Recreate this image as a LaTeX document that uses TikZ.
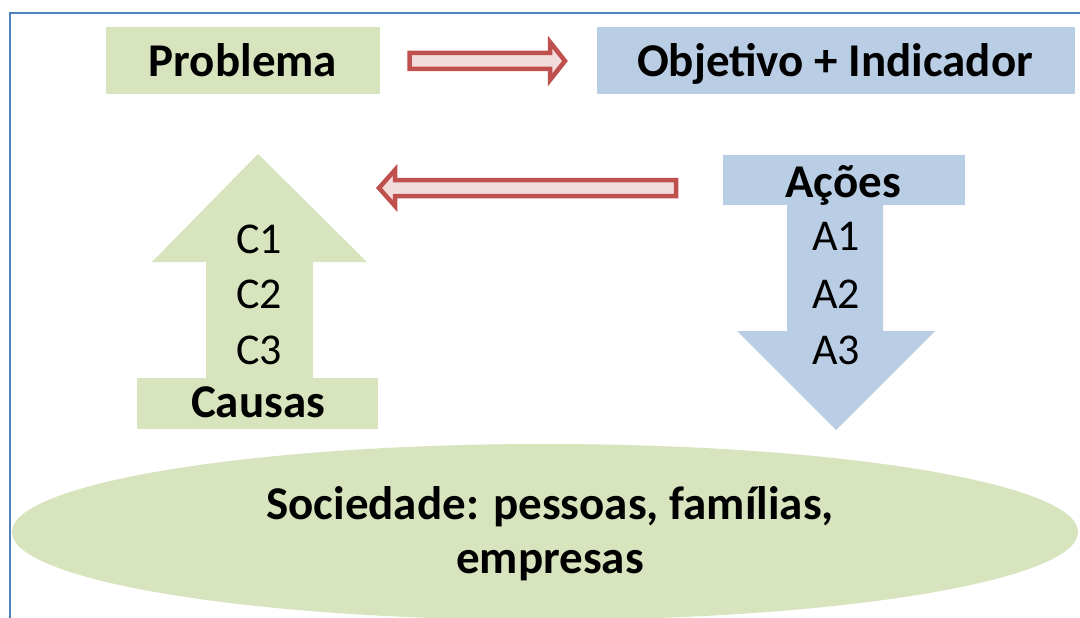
\documentclass[tikz,border=0pt]{standalone}
\usepackage{fontspec}
\setmainfont{Carlito}
\usetikzlibrary{shapes.geometric}
\definecolor{pgreen}{HTML}{D7E4BD}
\definecolor{pblue}{HTML}{B9CDE5}
\definecolor{pred}{HTML}{C0504D}
\definecolor{ppink}{HTML}{F2DCDB}
\definecolor{frameblue}{HTML}{4F81BD}
\begin{document}
\begin{tikzpicture}[x=1pt,y=-1pt,
  bigtxt/.style={font=\fontsize{47}{50}\selectfont\bfseries, anchor=base, inner sep=0pt},
  smalltxt/.style={font=\fontsize{44}{48}\selectfont, anchor=base, inner sep=0pt},
  gbox/.style={fill=pgreen, draw=none, inner sep=0pt},
  bbox/.style={fill=pblue, draw=none, inner sep=0pt},
  blockarrow/.style={draw=pred, fill=ppink, line width=4.5pt, line join=miter},
]
\useasboundingbox (0,0) rectangle (1080,618);
\fill[white] (0,0) rectangle (1080,618);
\draw[frameblue, line width=2pt] (10,640) -- (10,13) -- (1090,13);

% top boxes
\node[gbox, minimum width=274pt, minimum height=67pt] (probbox) at (243,60.5) {};
\node[bbox, minimum width=478pt, minimum height=67pt] (objbox) at (836,60.5) {};
\node[bigtxt] (prob) at (243,77) {Problema};
\node[bigtxt] (obj) at (835,77) {Objetivo + Indicador};

% society ellipse
\node[ellipse, fill=pgreen, draw=none, minimum width=1066pt, minimum height=176pt] (soc) at (545,532) {};
\node[bigtxt] (soc1) at (550,519) {Sociedade: pessoas, famílias,};
\node[bigtxt] (soc2) at (550,573) {empresas};

% causes (up arrow)
\fill[pgreen] (258,154) -- (367,262) -- (313,262) -- (313,380) -- (206,380) -- (206,262) -- (152,262) -- cycle;
\node[gbox, minimum width=241pt, minimum height=51pt] (causasbox) at (257.5,403.5) {};
\node[smalltxt] (c1) at (259,253) {C1};
\node[smalltxt] (c2) at (259,308) {C2};
\node[smalltxt] (c3) at (259,364) {C3};
\node[bigtxt] (causas) at (258,417) {Causas};

% actions (down arrow)
\fill[pblue] (787,204) -- (883,204) -- (883,331) -- (935,331) -- (836,430) -- (737,331) -- (787,331) -- cycle;
\node[bbox, minimum width=242pt, minimum height=50pt] (acoesbox) at (844,180) {};
\node[bigtxt] (acoes) at (843,197) {Ações};
\node[smalltxt] (a1) at (836,250) {A1};
\node[smalltxt] (a2) at (836,308) {A2};
\node[smalltxt] (a3) at (836,364) {A3};

% red block arrows
\coordinate (r0) at (409.5,61);
\coordinate (r1) at (565,61);
\draw[blockarrow] (r0) ++(0,-8) -- ++(140.5,0) -- ++(0,-11) -- (r1) -- ++(-15,19) -- ++(0,-11) -- ++(-140.5,0) -- cycle;
\coordinate (l0) at (676,188);
\coordinate (l1) at (379,188);
\draw[blockarrow] (l0) ++(0,-8) -- ++(-281,0) -- ++(0,-10) -- (l1) -- ++(16,18) -- ++(0,-10) -- ++(281,0) -- cycle;
\end{tikzpicture}
\end{document}
